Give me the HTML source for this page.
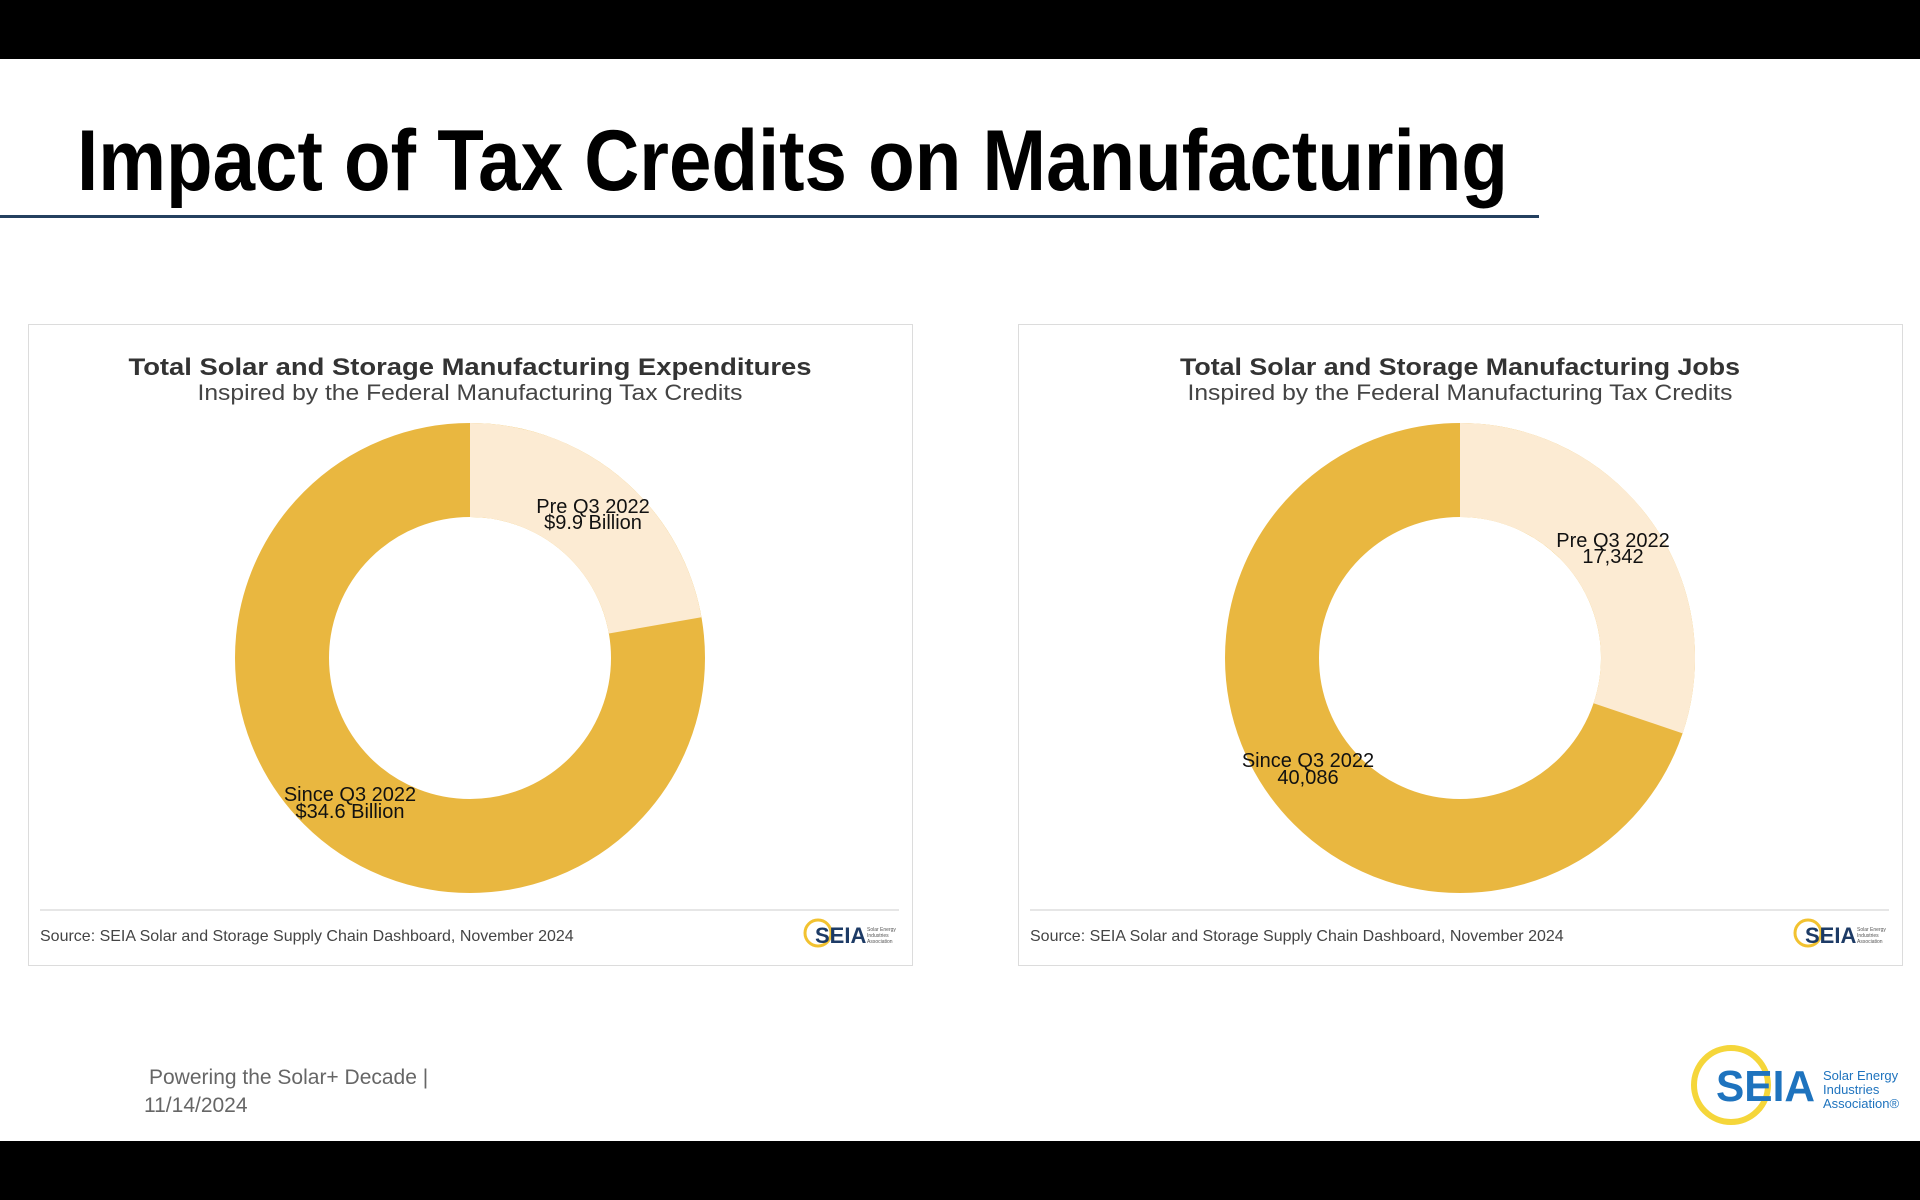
<!DOCTYPE html>
<html><head><meta charset="utf-8"><style>
html,body{margin:0;padding:0;background:#fff;}
svg{display:block;font-family:"Liberation Sans",sans-serif;}
</style></head><body>
<svg width="1920" height="1200" viewBox="0 0 1920 1200">
<rect x="0" y="0" width="1920" height="59" fill="#000"/>
<rect x="0" y="1141" width="1920" height="59" fill="#000"/>
<text x="77" y="190" font-size="86" font-weight="bold" fill="#000" textLength="1431" lengthAdjust="spacingAndGlyphs">Impact of Tax Credits on Manufacturing</text>
<rect x="0" y="215" width="1539" height="3" fill="#24405f"/>

<!-- Left card -->
<rect x="28.5" y="324.5" width="884" height="641" fill="#fff" stroke="#dcdcdc"/>
<text x="470" y="375" text-anchor="middle" font-size="24" font-weight="bold" fill="#333" textLength="683" lengthAdjust="spacingAndGlyphs">Total Solar and Storage Manufacturing Expenditures</text>
<text x="470" y="400" text-anchor="middle" font-size="22" fill="#444" textLength="545" lengthAdjust="spacingAndGlyphs">Inspired by the Federal Manufacturing Tax Credits</text>
<g transform="translate(470,658)">
<circle r="188" fill="none" stroke="#e9b740" stroke-width="94"/>
<path d="M0,-235 A235,235 0 0 1 231.4,-40.8 L138.9,-24.5 A141,141 0 0 0 0,-141 Z" fill="#fcebd3"/>
</g>
<g font-size="20" fill="#111" text-anchor="middle">
<text x="593" y="513">Pre Q3 2022</text><text x="593" y="529">$9.9 Billion</text>
<text x="350" y="801">Since Q3 2022</text><text x="350" y="818">$34.6 Billion</text>
</g>
<line x1="40" y1="910" x2="899" y2="910" stroke="#ddd" stroke-width="1.5"/>
<text x="40" y="941" font-size="16" fill="#444">Source: SEIA Solar and Storage Supply Chain Dashboard, November 2024</text>
<circle cx="818" cy="933" r="13" fill="none" stroke="#f2c230" stroke-width="3"/>
<text x="815" y="943" font-size="22" font-weight="bold" fill="#1d3b66">SEIA</text>
<text x="867" y="931" font-size="5" fill="#555">Solar Energy</text>
<text x="867" y="937" font-size="5" fill="#555">Industries</text>
<text x="867" y="943" font-size="5" fill="#555">Association</text>

<!-- Right card -->
<rect x="1018.5" y="324.5" width="884" height="641" fill="#fff" stroke="#dcdcdc"/>
<text x="1460" y="375" text-anchor="middle" font-size="24" font-weight="bold" fill="#333" textLength="560" lengthAdjust="spacingAndGlyphs">Total Solar and Storage Manufacturing Jobs</text>
<text x="1460" y="400" text-anchor="middle" font-size="22" fill="#444" textLength="545" lengthAdjust="spacingAndGlyphs">Inspired by the Federal Manufacturing Tax Credits</text>
<g transform="translate(1460,658)">
<circle r="188" fill="none" stroke="#e9b740" stroke-width="94"/>
<path d="M0,-235 A235,235 0 0 1 222.6,75.4 L133.6,45.2 A141,141 0 0 0 0,-141 Z" fill="#fcebd3"/>
</g>
<g font-size="20" fill="#111" text-anchor="middle">
<text x="1613" y="547">Pre Q3 2022</text><text x="1613" y="563">17,342</text>
<text x="1308" y="767">Since Q3 2022</text><text x="1308" y="784">40,086</text>
</g>
<line x1="1030" y1="910" x2="1889" y2="910" stroke="#ddd" stroke-width="1.5"/>
<text x="1030" y="941" font-size="16" fill="#444">Source: SEIA Solar and Storage Supply Chain Dashboard, November 2024</text>
<circle cx="1808" cy="933" r="13" fill="none" stroke="#f2c230" stroke-width="3"/>
<text x="1805" y="943" font-size="22" font-weight="bold" fill="#1d3b66">SEIA</text>
<text x="1857" y="931" font-size="5" fill="#555">Solar Energy</text>
<text x="1857" y="937" font-size="5" fill="#555">Industries</text>
<text x="1857" y="943" font-size="5" fill="#555">Association</text>

<!-- Footer -->
<text x="149" y="1084" font-size="21" fill="#666">Powering the Solar+ Decade |</text>
<text x="144" y="1112" font-size="21" fill="#666">11/14/2024</text>
<circle cx="1731" cy="1085" r="37" fill="none" stroke="#f5d63a" stroke-width="6"/>
<text x="1716" y="1101" font-size="44" font-weight="bold" fill="#1e73be" textLength="99" lengthAdjust="spacingAndGlyphs">SEIA</text>
<text x="1823" y="1080" font-size="13" fill="#1e73be">Solar Energy</text>
<text x="1823" y="1094" font-size="13" fill="#1e73be">Industries</text>
<text x="1823" y="1108" font-size="13" fill="#1e73be">Association®</text>
</svg>
</body></html>
